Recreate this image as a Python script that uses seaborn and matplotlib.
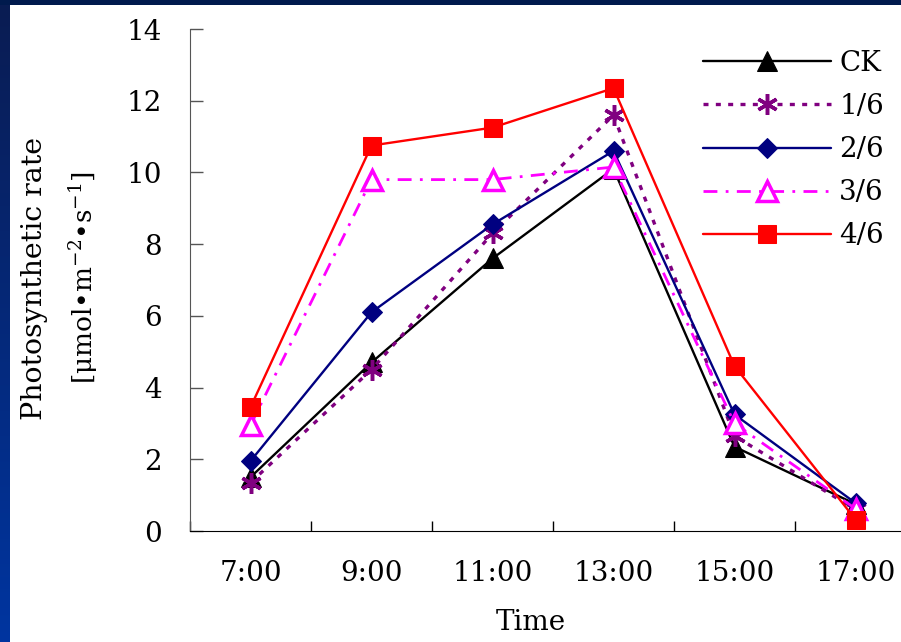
import numpy as np
import pandas as pd
import seaborn as sns
import matplotlib.pyplot as plt
from matplotlib.patches import Rectangle

times = ["7:00", "9:00", "11:00", "13:00", "15:00", "17:00"]
ck = [1.5, 4.7, 7.6, 10.1, 2.35, 0.75]
r16 = [1.35, 4.5, 8.3, 11.6, 2.65, 0.6]
r26 = [1.95, 6.1, 8.55, 10.6, 3.25, 0.78]
r36 = [2.95, 9.8, 9.8, 10.15, 3.0, 0.62]
r46 = [3.45, 10.75, 11.25, 12.35, 4.6, 0.32]
labels = ["CK", "1/6", "2/6", "3/6", "4/6"]

sns.set_style("ticks")
plt.rcParams['font.family'] = ['DejaVu Serif']
plt.rcParams['mathtext.fontset'] = 'dejavuserif'
plt.rcParams['text.color'] = 'black'

W, H = 901, 642
fig = plt.figure(figsize=(W / 100, H / 100), dpi=100)

# blue frame of the slide
bg = fig.add_axes([0, 0, 1, 1])
grad = np.linspace(0, 1, 256).reshape(-1, 1)
cmap = plt.matplotlib.colors.LinearSegmentedColormap.from_list("bg", ["#0a1c52", "#0035a0"])
bg.imshow(grad, aspect="auto", cmap=cmap, extent=[0, 1, 0, 1], origin="upper")
bg.add_patch(Rectangle((0, 1 - 5 / H), 1, 5 / H, color="#001a4d", lw=0))
bg.add_patch(Rectangle((10 / W, 0), 1, 1 - 5 / H, color="white", lw=0))
bg.set_xlim(0, 1)
bg.set_ylim(0, 1)
bg.axis("off")

ax = fig.add_axes([190 / W, (H - 531) / H, 726 / W, (531 - 29) / H])
ax.patch.set_alpha(0)

styles = [
    dict(color="black", marker="^", markersize=14, linestyle="-", lw=1.7),
    dict(color="#800080", marker=(6, 2, 0), markersize=15, markeredgewidth=2.5,
         linestyle=(0, (1.5, 2.2)), lw=2.4),
    dict(color="#000080", marker="D", markersize=10.5, linestyle="-", lw=1.7),
    dict(color="#ff00ff", marker="^", markersize=14, markerfacecolor="white",
         markeredgewidth=2.5, linestyle=(0, (5, 3, 1, 3)), lw=2.0),
    dict(color="#ff0000", marker="s", markersize=13, linestyle="-", lw=1.7),
]

for vals, lab, st in zip([ck, r16, r26, r36, r46], labels, styles):
    kw = dict(st)
    kw.setdefault("markeredgecolor", st["color"])
    sns.lineplot(x=times, y=vals, ax=ax, label=lab, sort=False, **kw)

ax.set_xlim(-0.5, 5.5)
ax.set_ylim(0, 14)
ax.set_yticks(range(0, 15, 2))
ax.set_xticks(range(6))
ax.set_xticks(np.arange(-0.5, 5.6, 1), minor=True)
ax.tick_params(axis="x", which="major", length=0, pad=21, labelsize=20, labelcolor="black")
ax.tick_params(axis="x", which="minor", direction="in", length=7, width=1, color="black")
ax.tick_params(axis="y", direction="in", length=9, width=1, pad=20, labelsize=20,
               color="#555555", labelcolor="black")
ax.set_xlabel("")
ax.set_ylabel("")
sns.despine(ax=ax)
ax.spines["left"].set_color("#555555")
ax.spines["bottom"].set_color("black")

fig.text(531 / W, 1 - 622 / H, "Time", ha="center", va="center", fontsize=20)
fig.text(35 / W, 1 - 278 / H, "Photosynthetic rate", rotation=90, ha="center", va="center", fontsize=20.5)
fig.text(84 / W, 1 - 278 / H, "[\u03bcmol\u2022m$^{-2}$\u2022s$^{-1}$]", rotation=90,
         ha="center", va="center", fontsize=19)

ax.legend(loc="upper left", bbox_to_anchor=(703 / W, 1 - 50 / H), bbox_transform=fig.transFigure,
          frameon=False, fontsize=20, handlelength=4.6, handletextpad=0.3,
          labelspacing=0.58, borderpad=0, borderaxespad=0, numpoints=1)

fig.savefig("out.png", dpi=100)
